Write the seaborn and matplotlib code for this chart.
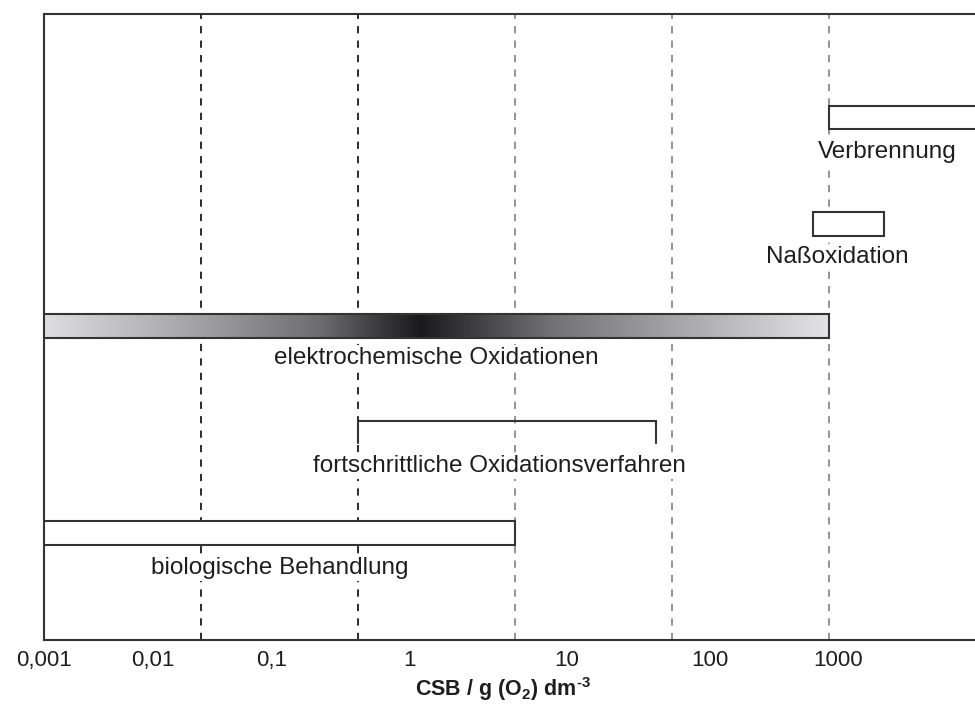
import numpy as np
import matplotlib
matplotlib.use("Agg")
import matplotlib.pyplot as plt
import seaborn as sns
from matplotlib.colors import LinearSegmentedColormap

# x axis is in decades (log10 of CSB); the original figure's labels do not sit on the gridlines
tick_labels = ["0,001", "0,01", "0,1", "1", "10", "100", "1000"]
tick_pos = [-3.0, -2.31, -1.55, -0.67, 0.33, 1.24, 2.06]
grid_pos = [-2, -1, 0, 1, 2]
grid_dark = [True, True, False, False, False]

# treatment methods and their ranges (decade units)
methods = ["Verbrennung", "Naßoxidation", "elektrochemische Oxidationen",
           "fortschrittliche Oxidationsverfahren", "biologische Behandlung"]
range_lo = [2.0, 1.9, -3.0, -1.0, -3.0]
range_hi = [3.5, 2.35, 2.0, 0.9, 0.0]

# gray gradient of the electrochemical bar (position along bar, gray level)
grad_pos = [0.0, 0.2, 0.35, 0.43, 0.48, 0.55, 0.65, 0.8, 1.0]
grad_gray = [0.87, 0.63, 0.43, 0.22, 0.1, 0.25, 0.45, 0.64, 0.89]

sns.set_theme(style="white")
plt.rcParams['font.family'] = ['Liberation Sans', 'DejaVu Sans']
plt.rcParams['mathtext.fontset'] = 'custom'
plt.rcParams['mathtext.rm'] = 'Liberation Sans'
plt.rcParams['mathtext.bf'] = 'Liberation Sans:bold'

fig = plt.figure(figsize=(9.75, 7.06), dpi=100)
ax = fig.add_axes([44 / 975, 1 - 640 / 706, 931 / 975, 626 / 706])

edge = "#333333"
txt_size = 17.5

# dashed gridlines
for g, dark in zip(grid_pos, grid_dark):
    ax.axvline(g, color="#1a1a1a" if dark else "#8a8a8a", lw=1.3,
               linestyle=(0, (4, 4)), zorder=1)

# Verbrennung, Nassoxidation, biologische Behandlung: white boxes
for i, yc, h in [(0, 103.5, 23), (1, 210, 24), (4, 519, 24)]:
    ax.barh(yc, range_hi[i] - range_lo[i], left=range_lo[i], height=h,
            color="white", edgecolor=edge, linewidth=1.5, zorder=3)

# electrochemical oxidation: gradient bar
cmap = LinearSegmentedColormap.from_list(
    "grad", [(p, (g, g, min(g + 0.01, 1))) for p, g in zip(grad_pos, grad_gray)])
grad = np.linspace(0, 1, 512).reshape(1, -1)
ax.imshow(grad, cmap=cmap, aspect="auto", extent=(range_lo[2], range_hi[2], 324, 300),
          zorder=3, interpolation="bilinear")
ax.barh(312, range_hi[2] - range_lo[2], left=range_lo[2], height=24,
        color="none", edgecolor=edge, linewidth=1.5, zorder=4)

# advanced oxidation: bracket
ax.plot([range_lo[3], range_lo[3], range_hi[3], range_hi[3]], [429, 407, 407, 429],
        color=edge, lw=1.5, zorder=3, solid_joinstyle="miter")

# labels
box = dict(facecolor="white", edgecolor="none", pad=1.5)
for name, x, y in [(methods[0], 2.37, 138), (methods[1], 2.05, 243), (methods[2], -0.50, 344),
                   (methods[3], -0.10, 452), (methods[4], -1.50, 554)]:
    ax.text(x, y, name, ha="center", va="center", fontsize=txt_size, color="#1e1e1e",
            bbox=box, zorder=5)

ax.set_xlim(-3, -3 + 931 / 157)
ax.set_ylim(626, 0)
ax.set_yticks([])
ax.set_xticks(tick_pos)
ax.set_xticklabels(tick_labels, fontsize=16, color="#1e1e1e")
ax.tick_params(axis="x", length=0, pad=7)
ax.set_xlabel(r"CSB / g (O$_\mathbf{2}$) dm$^\mathbf{‐3}$", fontsize=15.5, fontweight="bold",
              color="#1e1e1e")
ax.xaxis.set_label_coords((503 - 44) / 931, -(675 - 640) / 626)

for side in ["left", "top", "bottom"]:
    ax.spines[side].set_color(edge)
    ax.spines[side].set_linewidth(1.5)
ax.spines["right"].set_visible(False)

fig.savefig("out.png", dpi=100)
